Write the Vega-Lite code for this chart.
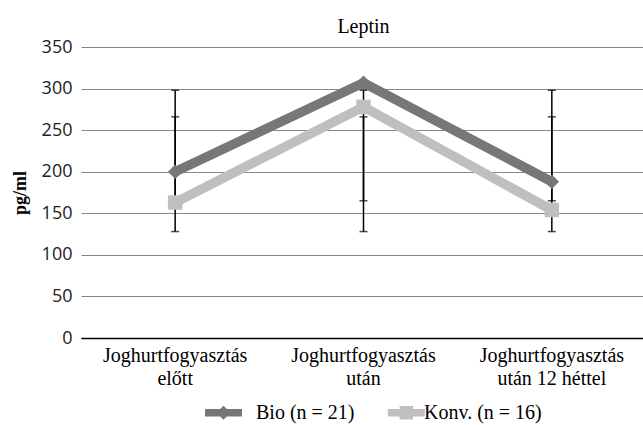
{
  "$schema": "https://vega.github.io/schema/vega-lite/v6.json",
  "width": 565,
  "height": 291,
  "autosize": "none",
  "padding": {"left": 81, "top": 47, "right": 0, "bottom": 87},
  "background": "white",
  "title": {"text": "Leptin", "font": "Liberation Serif", "fontSize": 20, "fontWeight": "normal", "color": "black", "offset": 1, "anchor": "middle"},
  "config": {"view": {"stroke": null}, "font": "Liberation Serif"},
  "data": {"values": [
    {"cat": "Joghurtfogyasztás|előtt", "series": "Bio (n = 21)", "value": 200, "lo": 128, "hi": 298},
    {"cat": "Joghurtfogyasztás|után", "series": "Bio (n = 21)", "value": 307, "lo": 128, "hi": 298},
    {"cat": "Joghurtfogyasztás|után 12 héttel", "series": "Bio (n = 21)", "value": 188, "lo": 128, "hi": 298},
    {"cat": "Joghurtfogyasztás|előtt", "series": "Konv. (n = 16)", "value": 163, "lo": 165, "hi": 266},
    {"cat": "Joghurtfogyasztás|után", "series": "Konv. (n = 16)", "value": 278, "lo": 165, "hi": 266},
    {"cat": "Joghurtfogyasztás|után 12 héttel", "series": "Konv. (n = 16)", "value": 154, "lo": 165, "hi": 266}
  ]},
  "encoding": {
    "x": {"field": "cat", "type": "nominal", "sort": ["Joghurtfogyasztás|előtt", "Joghurtfogyasztás|után", "Joghurtfogyasztás|után 12 héttel"],
      "scale": {"type": "band", "paddingInner": 0, "paddingOuter": 0},
      "axis": {"title": null, "labelAngle": 0, "labelExpr": "split(datum.label, '|')", "labelFont": "Liberation Serif", "labelFontWeight": "normal", "labelFontSize": 20, "labelColor": "black", "labelLineHeight": 23, "labelPadding": 7, "ticks": false, "domain": true, "domainColor": "black", "domainWidth": 1.5, "grid": false}
    }
  },
  "layer": [
    {
      "mark": {"type": "rule", "color": "black", "strokeWidth": 1.5},
      "encoding": {
        "y": {"field": "lo", "type": "quantitative", "scale": {"domain": [0, 350]},
          "axis": {"title": "pg/ml", "titleFont": "Liberation Serif", "titleFontSize": 18, "titleFontWeight": "bold", "titleColor": "black", "titlePadding": 12,
            "values": [0, 50, 100, 150, 200, 250, 300, 350], "labelFont": "Open Sans", "labelFontSize": 18, "labelColor": "#222", "labelPadding": 9,
            "grid": true, "gridColor": "#888888", "gridWidth": 1, "domain": false, "ticks": false}},
        "y2": {"field": "hi"}
      }
    },
    {
      "mark": {"type": "tick", "color": "black", "thickness": 1.5, "size": 8},
      "encoding": {"y": {"field": "lo", "type": "quantitative"}}
    },
    {
      "mark": {"type": "tick", "color": "black", "thickness": 1.5, "size": 8},
      "encoding": {"y": {"field": "hi", "type": "quantitative"}}
    },
    {
      "mark": {"type": "line", "strokeWidth": 9.5, "strokeJoin": "miter"},
      "encoding": {
        "y": {"field": "value", "type": "quantitative"},
        "color": {"field": "series", "type": "nominal",
          "scale": {"domain": ["Bio (n = 21)", "Konv. (n = 16)"], "range": ["#777777", "#bfbfbf"]},
          "legend": {"title": null, "orient": "none", "legendX": 124, "legendY": 347, "direction": "horizontal",
            "labelFont": "Liberation Serif", "labelFontWeight": "normal", "labelFontSize": 20, "labelColor": "black", "labelOffset": 14, "columnPadding": 18,
            "symbolSize": 1369, "symbolStrokeWidth": 0,
            "encode": {"symbols": {"update": {
              "shape": {"signal": "datum.value == 'Bio (n = 21)' ? 'M-1,-0.2H1V0.2H-1Z M0,-0.38L0.38,0L0,0.38L-0.38,0Z' : 'M-0.2,-0.2H1.8V0.2H-0.2Z M0.44,-0.36H1.16V0.36H0.44Z'"},
              "fill": {"signal": "datum.value == 'Bio (n = 21)' ? '#777777' : '#bfbfbf'"},
              "fillOpacity": {"value": 1},
              "strokeWidth": {"value": 0}
            }}}
          }
        }
      }
    },
    {
      "mark": {"type": "point", "filled": true, "opacity": 1, "size": 210},
      "encoding": {
        "y": {"field": "value", "type": "quantitative"},
        "color": {"condition": {"test": "datum.series == 'Bio (n = 21)'", "value": "#777777"}, "value": "#bfbfbf"},
        "shape": {"condition": {"test": "datum.series == 'Bio (n = 21)'", "value": "diamond"}, "value": "square"}
      }
    }
  ]
}
